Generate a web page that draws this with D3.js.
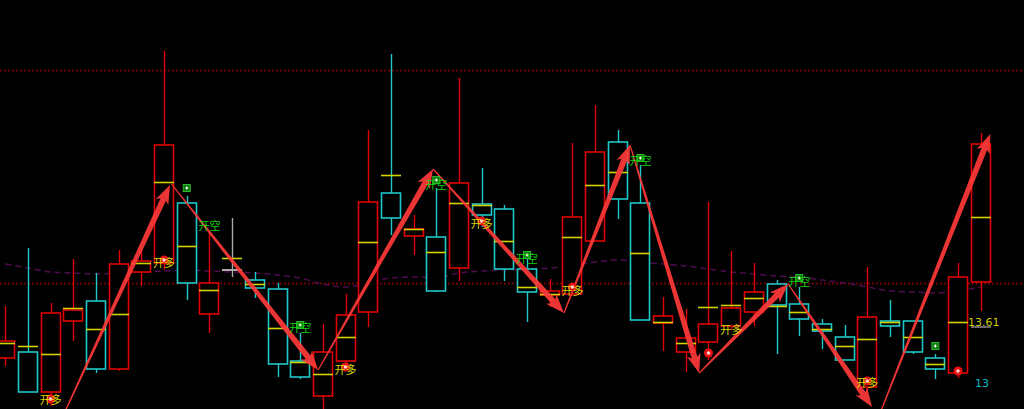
<!DOCTYPE html>
<html>
<head>
<meta charset="utf-8">
<script src="https://cdn.jsdelivr.net/npm/d3@7/dist/d3.min.js"></script>
<style>
  html, body { margin: 0; padding: 0; background: #000; }
  svg { display: block; }
</style>
</head>
<body>
<div id="chart"></div>
<script>
// bars, one per session
var days = d3.range(0, 44);
var opens  = [13.25,13.31,12.91,13.62,13.82,13.14,14.11,14.20,14.80,13.69,14.13,14.03,13.94,13.22,12.87,13.22,13.71,14.90,14.47,14.46,14.15,14.79,14.74,14.14,13.88,13.89,14.42,15.41,14.80,13.60,13.31,13.41,13.57,13.71,13.99,13.79,13.59,13.46,12.96,13.62,13.62,13.25,13.10,14.01];
var highs  = [13.77,14.35,13.80,14.24,14.10,14.33,14.34,16.32,14.87,14.51,14.65,14.11,14.00,13.50,13.59,13.89,15.53,16.29,14.68,14.95,16.05,15.15,14.78,14.28,14.04,15.40,15.78,15.53,15.18,13.86,13.74,14.81,14.32,14.20,14.03,13.96,13.64,13.58,14.16,13.83,13.62,13.29,14.20,15.50];
var lows   = [13.17,12.91,12.77,13.42,13.10,13.12,13.97,14.13,13.83,13.50,14.06,13.85,13.06,13.04,12.70,13.15,13.56,14.48,14.28,13.91,14.02,14.56,14.02,13.61,13.76,13.87,14.42,14.64,13.63,13.32,13.11,13.23,13.53,13.57,13.29,13.47,13.34,13.23,12.93,13.46,13.29,13.04,13.05,13.72];
var closes = [13.42,12.91,13.70,13.73,13.14,14.19,14.22,15.38,14.00,14.00,14.13,13.95,13.19,13.06,13.31,13.68,14.81,14.65,14.54,13.92,15.00,14.68,14.14,13.91,13.92,14.66,15.31,14.84,13.63,13.67,13.45,13.59,13.75,13.91,13.78,13.64,13.52,13.23,13.66,13.57,13.31,13.14,14.06,15.39];
var mids   = [13.40,13.37,13.29,13.75,13.54,13.69,14.20,15.01,14.37,13.93,14.25,13.99,13.55,13.21,13.09,13.46,14.41,15.08,14.54,14.31,14.80,14.78,14.42,13.96,13.89,14.46,14.98,15.11,14.30,13.61,13.40,13.76,13.78,13.85,13.77,13.71,13.54,13.37,13.44,13.61,13.46,13.19,13.61,14.66];
var maLine = [14.19,14.15,14.11,14.10,14.09,14.10,14.11,14.12,14.13,14.12,14.11,14.10,14.08,14.05,13.99,13.96,14.00,14.05,14.06,14.05,14.10,14.12,14.13,14.14,14.15,14.18,14.21,14.23,14.21,14.19,14.17,14.14,14.11,14.09,14.07,14.06,14.03,14.00,13.96,13.92,13.91,13.90,13.92,13.96];

// dotted price levels
var refLevels = [16.13, 14.00];

// signals
var signalText  = ['开多','开多','开空','开空','开多','开空','开多','开空','开多','开空','开多','开空','开多'];
var signalDay   = [2, 7, 9, 13, 15, 19, 21, 23, 25, 28, 32, 35, 38];
var signalPrice = [12.84,14.21,14.58,13.56,13.14,14.99,14.60,14.25,13.93,15.23,13.54,14.02,13.01];

var markType  = ['long','long','short','short','long','short','long','short','long','short','long','short','long','short','long'];
var markDay   = [2, 7, 8, 13, 15, 19, 21, 23, 25, 28, 31, 35, 38, 41, 42];
var markPrice = [12.84,14.23,14.95,13.58,13.16,15.03,14.62,14.28,13.96,15.25,13.30,14.05,13.02,13.37,13.12];

// hand drawn swing arrows [day, price]
var arrowFrom = [[2.50,12.65],[7.33,14.99],[13.79,13.13],[18.86,15.14],[24.63,13.70],[27.54,15.38],[30.59,13.10],[34.51,13.99],[38.48,12.65]];
var arrowTo   = [[7.26,14.98],[13.79,13.13],[18.86,15.14],[24.63,13.70],[27.54,15.38],[30.59,13.10],[34.51,13.99],[38.21,12.76],[43.42,15.49]];

var lastLabel = '13.61', lastPrice = 13.61;
var lowLabel = '13', lowPrice = 13.00;

var width = 1024,
    height = 409,
    bodyW = 20;

var xScale = d3.scaleLinear()
      .domain([0, 43])
      .range([5.3, 980.7]);

var yScale = d3.scaleLinear()
      .domain([13, 16.83])
      .range([383, 0]);

var svg = d3.select('#chart').append('svg')
  .attr('width', width)
  .attr('height', height)
  .style('background', '#000');

svg.selectAll('line.ref').data(refLevels)
  .enter().append('line')
    .attr('class', 'ref')
    .attr('x1', 0).attr('x2', width)
    .attr('y1', function(d) { return Math.round(yScale(d)) + 0.5; })
    .attr('y2', function(d) { return Math.round(yScale(d)) + 0.5; })
    .style('stroke', '#6c0000')
    .style('stroke-width', 2)
    .style('stroke-dasharray', '2,2');

var maPath = d3.line()
  .x(function(d, i) { return xScale(i); })
  .y(function(d) { return yScale(d); })
  .curve(d3.curveMonotoneX);

svg.append('path')
  .datum(maLine)
  .attr('d', maPath)
  .style('fill', 'none')
  .style('stroke', '#4e0c4e')
  .style('stroke-width', 1.5)
  .style('stroke-dasharray', '6,4');

function colorOf(i) {
  if (closes[i] > opens[i]) return '#e00000';
  if (closes[i] < opens[i]) return '#1ec8c8';
  return '#a8a8a8';
}

var candle = svg.append('g').selectAll('g').data(days)
  .enter().append('g');

candle.append('line')
  .attr('x1', function(i) { return Math.round(xScale(i)) + 0.5; })
  .attr('x2', function(i) { return Math.round(xScale(i)) + 0.5; })
  .attr('y1', function(i) { return yScale(highs[i]); })
  .attr('y2', function(i) { return yScale(lows[i]); })
  .style('stroke', colorOf)
  .style('stroke-width', 1.4);

candle.filter(function(i) { return opens[i] !== closes[i]; })
  .append('rect')
    .attr('x', function(i) { return Math.round(xScale(i)) - bodyW / 2 + 0.5; })
    .attr('y', function(i) { return yScale(Math.max(opens[i], closes[i])); })
    .attr('width', bodyW - 1)
    .attr('height', function(i) { return Math.abs(yScale(opens[i]) - yScale(closes[i])); })
    .style('fill', '#000')
    .style('stroke', colorOf)
    .style('stroke-width', 1.6);

candle.filter(function(i) { return opens[i] === closes[i]; })
  .append('line')
    .attr('x1', function(i) { return Math.round(xScale(i)) - bodyW / 2; })
    .attr('x2', function(i) { return Math.round(xScale(i)) + bodyW / 2; })
    .attr('y1', function(i) { return yScale(opens[i]); })
    .attr('y2', function(i) { return yScale(opens[i]); })
    .style('stroke', colorOf)
    .style('stroke-width', 2);

candle.append('line')
  .attr('x1', function(i) { return Math.round(xScale(i)) - bodyW / 2; })
  .attr('x2', function(i) { return Math.round(xScale(i)) + bodyW / 2; })
  .attr('y1', function(i) { return Math.round(yScale(mids[i])) + 0.5; })
  .attr('y2', function(i) { return Math.round(yScale(mids[i])) + 0.5; })
  .style('stroke', '#d2d200')
  .style('stroke-width', 1.6);

// tapered arrows
function arrowShape(a, b) {
  var x0 = xScale(a[0]), y0 = yScale(a[1]);
  var x1 = xScale(b[0]), y1 = yScale(b[1]);
  var len = Math.hypot(x1 - x0, y1 - y0);
  var ux = (x1 - x0) / len, uy = (y1 - y0) / len;
  var nx = -uy, ny = ux;
  var headLen = 16, headW = 7;
  var bx = x1 - ux * headLen, by = y1 - uy * headLen;
  var pts = [
    [x0 + nx * 0.6, y0 + ny * 0.6],
    [bx + nx * 3, by + ny * 3],
    [bx - ux * 3 + nx * headW, by - uy * 3 + ny * headW],
    [x1, y1],
    [bx - ux * 3 - nx * headW, by - uy * 3 - ny * headW],
    [bx - nx * 3, by - ny * 3],
    [x0 - nx * 0.6, y0 - ny * 0.6]
  ];
  return 'M' + pts.map(function(p) { return p.join(','); }).join('L') + 'Z';
}

svg.append('g').selectAll('path').data(arrowFrom)
  .enter().append('path')
    .attr('d', function(d, i) { return arrowShape(d, arrowTo[i]); })
    .style('fill', '#ff3838')
    .style('opacity', 0.92);

// markers
var marks = svg.append('g').selectAll('g').data(markDay)
  .enter().append('g')
    .attr('transform', function(d, i) {
      return 'translate(' + xScale(d) + ',' + yScale(markPrice[i]) + ')';
    });

marks.filter(function(d, i) { return markType[i] === 'long'; })
  .call(function(g) {
    g.append('circle').attr('r', 4.5).style('fill', '#e81010');
    g.append('circle').attr('r', 1.8).style('fill', '#ffd0d0');
  });

marks.filter(function(d, i) { return markType[i] === 'short'; })
  .call(function(g) {
    g.append('rect').attr('x', -3.5).attr('y', -3.5).attr('width', 7).attr('height', 7)
      .style('fill', '#0f7a0f').style('stroke', '#2fb52f').style('stroke-width', 1);
    g.append('path').attr('d', 'M-1.5,0H1.5M0,-1.5V1.5')
      .style('stroke', '#ffffff').style('stroke-width', 1.2);
  });

svg.append('g').selectAll('text').data(signalText)
  .enter().append('text')
    .attr('x', function(d, i) { return xScale(signalDay[i]); })
    .attr('y', function(d, i) { return yScale(signalPrice[i]); })
    .attr('text-anchor', 'middle')
    .attr('dominant-baseline', 'central')
    .style('font-family', '"Noto Sans CJK SC", sans-serif')
    .style('font-size', '11px')
    .style('fill', function(d) { return d === '开多' ? '#d6d600' : '#10d010'; })
    .text(function(d) { return d; });

svg.append('text')
  .attr('x', 968)
  .attr('y', yScale(lastPrice) + 4)
  .style('font-family', '"DejaVu Sans", sans-serif')
  .style('font-size', '11px')
  .style('fill', '#c8c800')
  .text(lastLabel);

svg.append('line')
  .attr('x1', 971).attr('x2', 991)
  .attr('y1', yScale(lastPrice) + 5).attr('y2', yScale(lastPrice) + 5)
  .style('stroke', '#8a8a8a')
  .style('stroke-width', 1.5);

svg.append('text')
  .attr('x', 975)
  .attr('y', yScale(lowPrice))
  .attr('dominant-baseline', 'central')
  .style('font-family', '"DejaVu Sans", sans-serif')
  .style('font-size', '11px')
  .style('fill', '#10b8c8')
  .text(lowLabel);
</script>
</body>
</html>
